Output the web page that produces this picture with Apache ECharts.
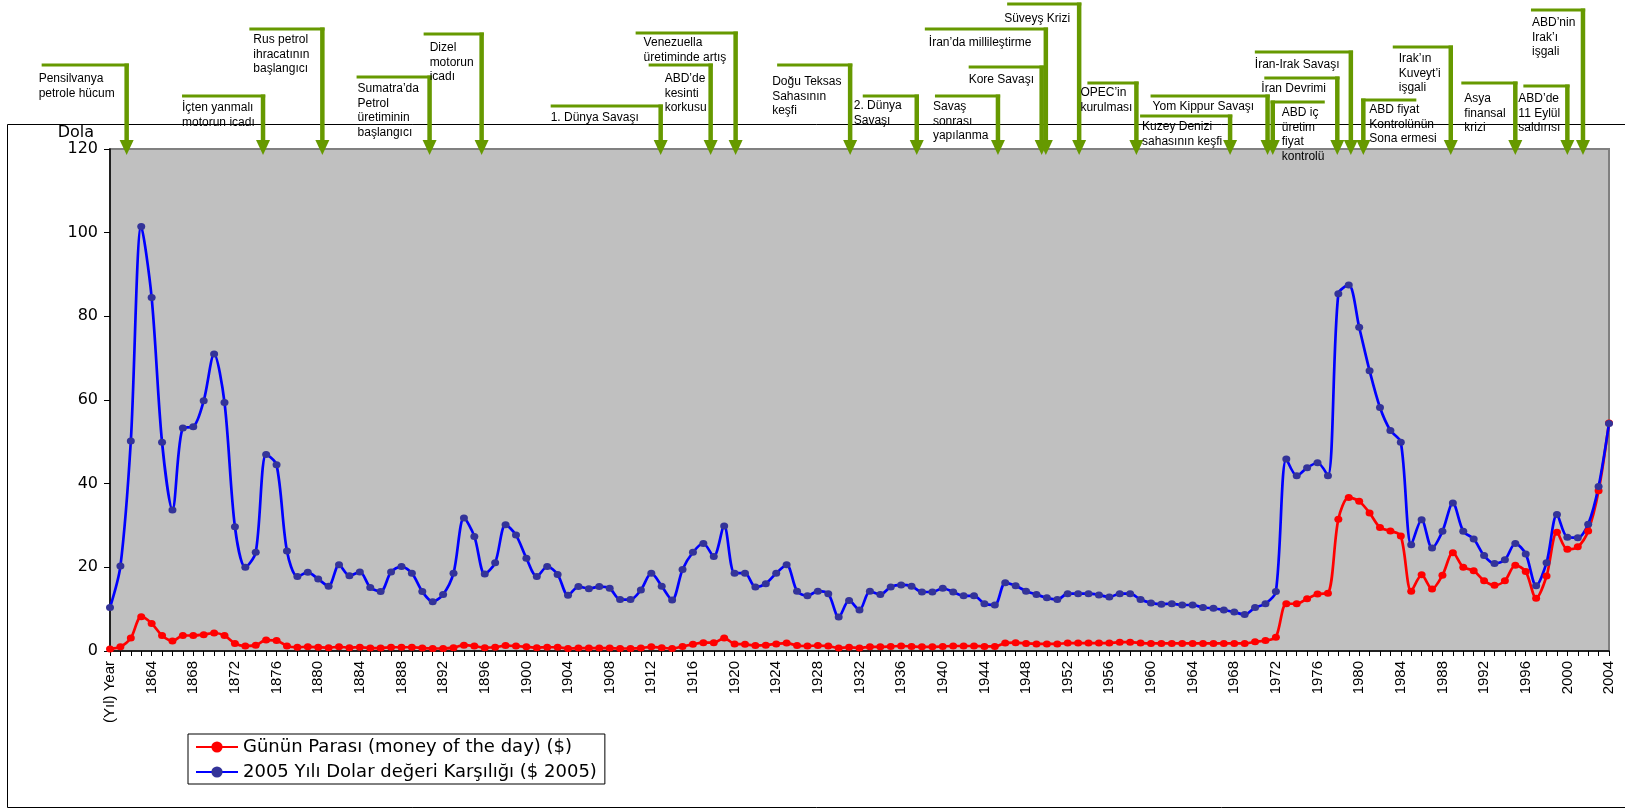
<!DOCTYPE html>
<html><head><meta charset="utf-8">
<script src="https://cdn.jsdelivr.net/npm/echarts@6/dist/echarts.min.js"></script>
<style>html,body{margin:0;padding:0;background:#fff}#c{width:1625px;height:809px}</style>
</head><body><div id="c"></div>
<script>
// ---- data ----
const firstCategory = '(Yıl) Year';
const firstYear = 1861, lastYear = 2004;
const categories = [firstCategory];
for (let y = firstYear; y <= lastYear; y++) categories.push(String(y));

const seriesNames = ['Günün Parası (money of the day) ($)', '2005 Yılı Dolar değeri Karşılığı ($ 2005)'];

const moneyOfDay = [
 0.5, 1.0, 3.1, 8.2, 6.6, 3.7, 2.4, 3.7, 3.7, 3.9,
 4.3, 3.7, 1.8, 1.2, 1.4, 2.6, 2.5, 1.2, 0.9, 1.0,
 0.9, 0.8, 1.0, 0.8, 0.9, 0.7, 0.7, 0.9, 0.9, 0.9,
 0.7, 0.6, 0.6, 0.8, 1.4, 1.2, 0.8, 0.9, 1.3, 1.2,
 1.0, 0.8, 0.9, 0.9, 0.6, 0.7, 0.7, 0.7, 0.7, 0.6,
 0.6, 0.7, 1.0, 0.8, 0.6, 1.1, 1.6, 2.0, 2.0, 3.1,
 1.7, 1.6, 1.3, 1.4, 1.7, 1.9, 1.3, 1.2, 1.3, 1.2,
 0.7, 0.9, 0.7, 1.0, 1.0, 1.1, 1.2, 1.1, 1.0, 1.0,
 1.1, 1.2, 1.2, 1.2, 1.1, 1.1, 1.9, 2.0, 1.8, 1.7,
 1.7, 1.7, 1.9, 1.9, 1.9, 1.9, 1.9, 2.1, 2.1, 1.9,
 1.8, 1.8, 1.8, 1.8, 1.8, 1.8, 1.8, 1.8, 1.8, 1.8,
 2.2, 2.5, 3.3, 11.3, 11.3, 12.5, 13.6, 13.8, 31.5, 36.7,
 35.8, 33.0, 29.5, 28.7, 27.5, 14.3, 18.2, 14.8, 18.1, 23.5,
 20.0, 19.2, 16.8, 15.7, 16.8, 20.5, 19.0, 12.6, 17.9, 28.4,
 24.3, 24.9, 28.7, 38.3, 54.5
];

const dollars2005 = [
 10.4, 20.3, 50.2, 101.5, 84.5, 49.9, 33.7, 53.3, 53.6, 59.8,
 71.0, 59.4, 29.7, 20.0, 23.6, 47.0, 44.5, 23.9, 17.8, 18.8,
 17.2, 15.5, 20.6, 18.0, 18.9, 15.2, 14.2, 18.9, 20.2, 18.6,
 14.2, 11.8, 13.5, 18.6, 31.8, 27.4, 18.4, 21.1, 30.2, 27.7,
 22.2, 17.8, 20.2, 18.3, 13.3, 15.4, 14.9, 15.4, 15.0, 12.3,
 12.3, 14.6, 18.6, 15.5, 12.2, 19.5, 23.6, 25.7, 22.6, 29.9,
 18.6, 18.6, 15.3, 16.1, 18.6, 20.6, 14.3, 13.2, 14.3, 13.7,
 8.1, 12.1, 9.8, 14.3, 13.5, 15.3, 15.8, 15.5, 14.1, 14.1,
 15.0, 14.1, 13.2, 13.2, 11.3, 11.0, 16.3, 15.6, 14.3, 13.5,
 12.7, 12.3, 13.7, 13.7, 13.7, 13.4, 12.9, 13.7, 13.7, 12.3,
 11.5, 11.2, 11.3, 11.0, 11.0, 10.4, 10.2, 9.8, 9.3, 8.7,
 10.4, 11.3, 14.2, 45.9, 41.9, 43.8, 45.0, 41.9, 85.4, 87.5,
 77.4, 67.0, 58.2, 52.7, 49.9, 25.4, 31.4, 24.6, 28.6, 35.4,
 28.6, 26.8, 22.8, 20.9, 21.8, 25.7, 23.2, 15.6, 21.1, 32.6,
 27.2, 27.1, 30.3, 39.3, 54.4
];

const yTicks = {min: 0, max: 120, interval: 20};
const yAxisName = 'Dola';

// events: text lines and the category position (index on the x axis) the arrow points at
const eventTexts = [
 ['Pensilvanya', 'petrole hücum'],
 ['İçten yanmalı', 'motorun icadı'],
 ['Rus petrol', 'ihracatının', 'başlangıcı'],
 ['Sumatra’da', 'Petrol', 'üretiminin', 'başlangıcı'],
 ['Dizel', 'motorun', 'icadı'],
 ['1. Dünya Savaşı'],
 ['ABD’de', 'kesinti', 'korkusu'],
 ['Venezuella', 'üretiminde artış'],
 ['Doğu Teksas', 'Sahasının', 'keşfi'],
 ['2. Dünya', 'Savaşı'],
 ['Savaş', 'sonrası', 'yapılanma'],
 ['Kore Savaşı'],
 ['İran’da millileştirme'],
 ['Süveyş Krizi'],
 ['OPEC’in', 'kurulması'],
 ['Kuzey Denizi', 'sahasının keşfi'],
 ['Yom Kippur Savaşı'],
 ['ABD iç', 'üretim', 'fiyat', 'kontrolü'],
 ['İran Devrimi'],
 ['İran-Irak Savaşı'],
 ['ABD fiyat', 'Kontrolünün', 'Sona ermesi'],
 ['Irak’ın', 'Kuveyt’i', 'işgali'],
 ['Asya', 'finansal', 'krizi'],
 ['ABD’de', '11 Eylül', 'saldırısı'],
 ['ABD’nin', 'Irak’ı', 'işgali']
];
const eventAt = [1.6, 14.7, 20.4, 30.7, 35.7, 52.9, 57.7, 60.1, 71.1, 77.5, 85.3, 89.5, 89.9, 93.1, 98.6,
 107.6, 111.2, 111.7, 117.9, 119.2, 120.4, 128.8, 135.0, 140.0, 141.5];

// layout of the annotations (pixel offsets from arrow, absolute y)
const eventLayout = [
 {tx:-88, ty:79, by:65, bx:-85},
 {tx:-81, ty:108, by:96, bx:-81},
 {tx:-69, ty:40, by:29, bx:-73},
 {tx:-72, ty:89, by:77, bx:-73},
 {tx:-52, ty:48, by:34, bx:-58},
 {tx:-110, ty:118, by:106, bx:-110},
 {tx:-46, ty:79, by:65, bx:-62},
 {tx:-92, ty:43, by:33, bx:-100},
 {tx:-78, ty:82, by:65, bx:-73},
 {tx:-63, ty:106, by:96, bx:-54},
 {tx:-65, ty:107, by:96, bx:-63},
 {tx:-73, ty:80, by:67, bx:-73},
 {tx:-117, ty:43, by:29, bx:-121},
 {tx:-75, ty:19, by:4, bx:-72},
 {tx:-56, ty:93, by:83, bx:-49},
 {tx:-88, ty:127, by:116, bx:-90},
 {tx:-115, ty:107, by:96, bx:-117},
 {tx:9, ty:113, by:102, bx:52},
 {tx:-76, ty:89, by:78, bx:-73},
 {tx:-96, ty:65, by:52, bx:-96},
 {tx:6, ty:110, by:100, bx:53},
 {tx:-52, ty:59, by:47, bx:-58},
 {tx:-51, ty:99, by:83, bx:-54},
 {tx:-49, ty:99, by:86, bx:-44},
 {tx:-51, ty:23, by:10, bx:-52}
];

const GREEN = '#669900';

// ---- chart ----
const chart = echarts.init(document.getElementById('c'), null, {renderer: 'canvas'});
const option = {
  animation: false,
  backgroundColor: '#ffffff',
  grid: {left: 110, right: 16, top: 149, bottom: 158, show: true,
         backgroundColor: '#C0C0C0', borderColor: '#808080', borderWidth: 2},
  legend: {
    left: 188, top: 734, orient: 'vertical',
    backgroundColor: '#fff', borderColor: '#000', borderWidth: 1,
    padding: [3, 8, 2, 7], itemGap: 5, itemWidth: 42, itemHeight: 14,
    textStyle: {fontFamily: 'DejaVu Sans', fontSize: 18, color: '#000', lineHeight: 20},
    data: seriesNames
  },
  xAxis: {
    type: 'category', data: categories, boundaryGap: false,
    axisLine: {lineStyle: {color: '#000', width: 1.5}},
    axisTick: {show: true, interval: 0, length: 5, lineStyle: {color: '#000'}},
    axisLabel: {interval: 3, rotate: 90, margin: 10, color: '#000',
                fontFamily: 'Liberation Sans, Arial', fontSize: 15},
    splitLine: {show: false}
  },
  yAxis: {
    type: 'value', min: yTicks.min, max: yTicks.max, interval: yTicks.interval,
    name: yAxisName, nameLocation: 'end', nameGap: 5,
    nameTextStyle: {fontFamily: 'DejaVu Sans', fontSize: 16, color: '#000', align: 'right',
                    verticalAlign: 'bottom', padding: [0, 16, 0, 0]},
    axisLine: {show: true, lineStyle: {color: '#000', width: 1.5}},
    axisTick: {show: true, length: 6, lineStyle: {color: '#000'}},
    axisLabel: {margin: 12, color: '#000', fontFamily: 'DejaVu Sans', fontSize: 16},
    splitLine: {show: false}
  },
  series: [
    {name: seriesNames[0], type: 'line', data: moneyOfDay, smooth: 0.3,
     symbol: 'circle', symbolSize: [8, 7], showAllSymbol: true,
     lineStyle: {color: '#FF0000', width: 2.7}, itemStyle: {color: '#FF0000'}},
    {name: seriesNames[1], type: 'line', data: dollars2005, smooth: 0.3,
     symbol: 'circle', symbolSize: [8, 7], showAllSymbol: true,
     lineStyle: {color: '#0000FF', width: 2.7}, itemStyle: {color: '#333399'}}
  ]
};
chart.setOption(option);

// ---- annotations, anchored on the x axis ----
const x0 = chart.convertToPixel({xAxisIndex: 0}, categories[0]);
const xN = chart.convertToPixel({xAxisIndex: 0}, categories[categories.length - 1]);
const step = (xN - x0) / (categories.length - 1);
const plotTop = chart.convertToPixel({yAxisIndex: 0}, yTicks.max);
const tipY = plotTop + 6, headTop = plotTop - 9, headHalf = 7;

const graphics = [
  {type: 'rect', z: 100, silent: true,
   shape: {x: 7.5, y: 124.5, width: 1660, height: 683},
   style: {fill: null, stroke: '#000', lineWidth: 1}}
];
eventTexts.forEach((lines, i) => {
  const L = eventLayout[i];
  const ax = x0 + eventAt[i] * step;
  const bx = ax + L.bx;
  const lo = Math.min(ax, bx), hi = Math.max(ax, bx);
  graphics.push({type: 'line', z: 101, silent: true,
    shape: {x1: lo - (bx < ax ? 0 : 2.2), y1: L.by, x2: hi + (bx < ax ? 2.2 : 0), y2: L.by},
    style: {stroke: GREEN, lineWidth: 3}});
  graphics.push({type: 'line', z: 101, silent: true,
    shape: {x1: ax, y1: L.by - 1.5, x2: ax, y2: headTop + 1},
    style: {stroke: GREEN, lineWidth: 4.5}});
  graphics.push({type: 'polygon', z: 101, silent: true,
    shape: {points: [[ax - headHalf, headTop], [ax + headHalf, headTop], [ax, tipY]]},
    style: {fill: GREEN}});
  graphics.push({type: 'text', z: 102, silent: true,
    style: {text: lines.join('\n'), x: ax + L.tx, y: L.ty - 7.25,
            fill: '#000', fontFamily: 'Liberation Sans, Arial', fontSize: 12,
            lineHeight: 14.5, verticalAlign: 'top', align: 'left'}});
});
chart.setOption({graphic: graphics});
</script></body></html>
